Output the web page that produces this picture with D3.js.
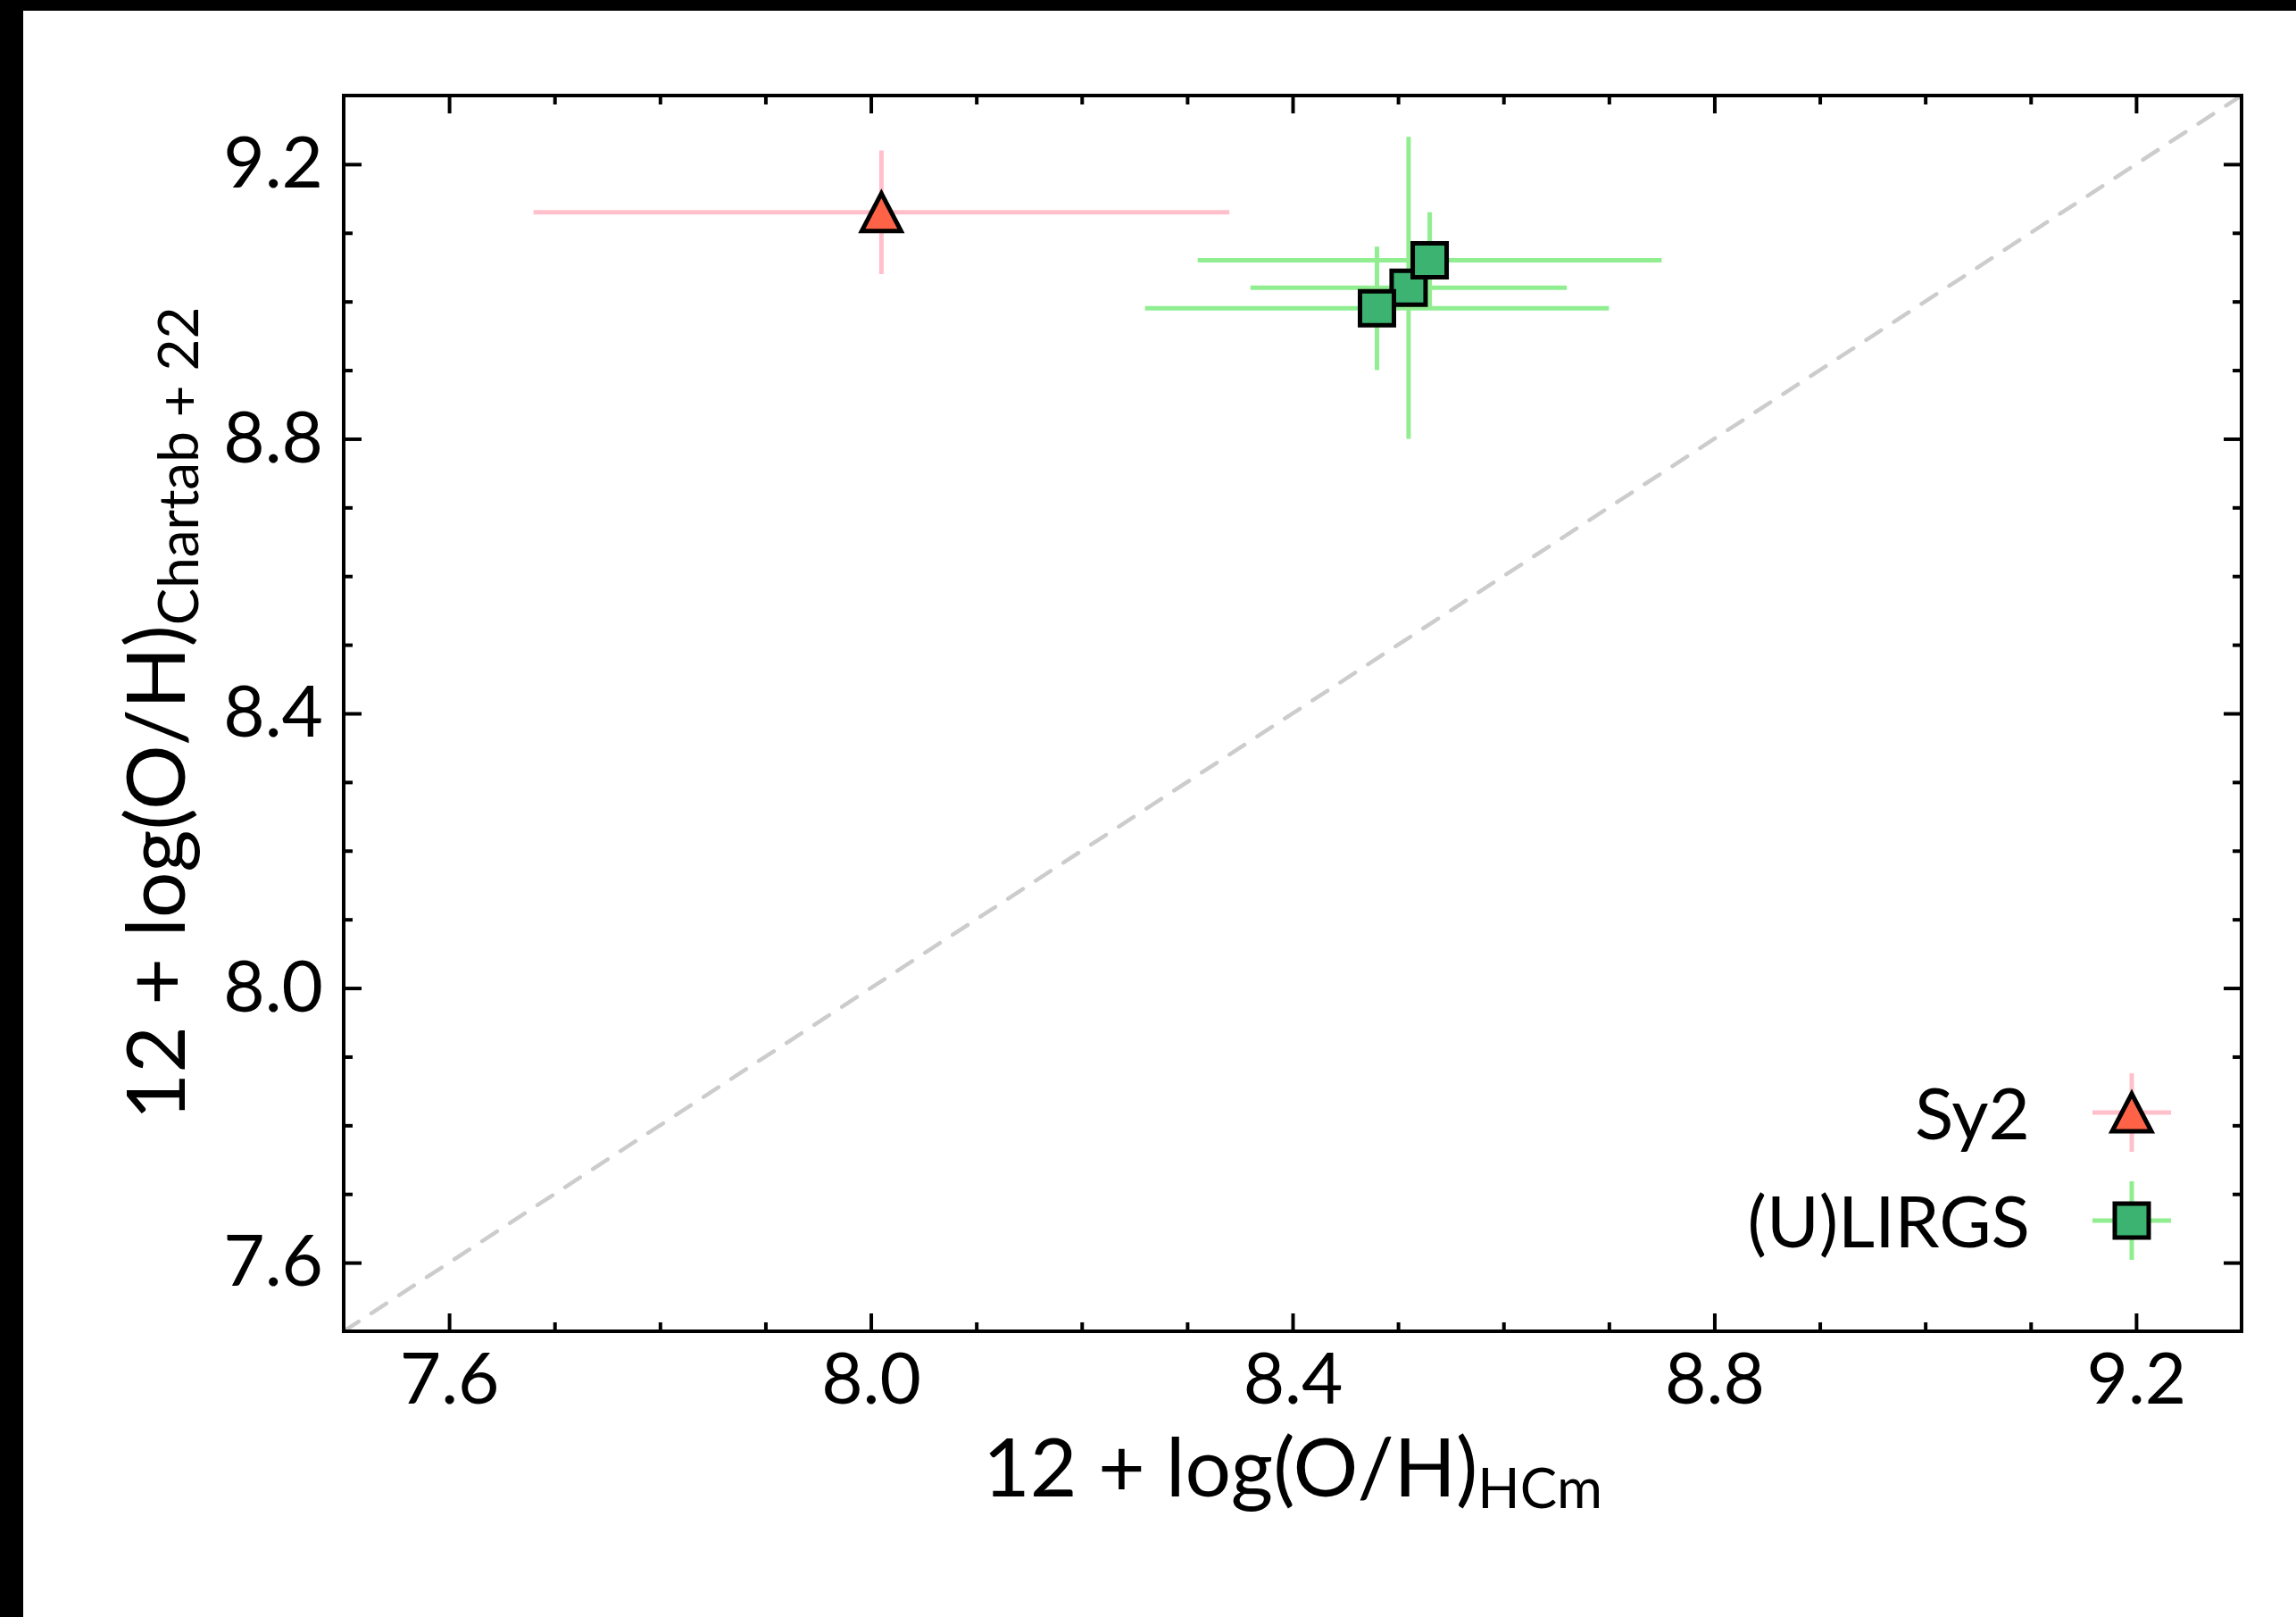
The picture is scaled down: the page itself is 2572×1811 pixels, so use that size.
<!DOCTYPE html>
<html>
<head>
<meta charset="utf-8">
<script src="https://cdn.jsdelivr.net/npm/d3@7"></script>
<style>
  body { margin: 0; background: #fff; }
  text { font-family: "Lato", "DejaVu Sans", sans-serif; fill: #000; }
</style>
</head>
<body>
<div id="chart"></div>
<script>
// Sy2 galaxies
var sy2X = [8.01];
var sy2Y = [9.13];
var sy2XErr = [0.33];
var sy2YErr = [0.09];

// (U)LIRGs
var lirgX = [8.51, 8.48, 8.53];
var lirgY = [9.02, 8.99, 9.06];
var lirgXErr = [0.15, 0.22, 0.22];
var lirgYErr = [0.22, 0.09, 0.07];

var majorTicks = [7.6, 8.0, 8.4, 8.8, 9.2];
var minorTicks = [7.7, 7.8, 7.9, 8.1, 8.2, 8.3, 8.5, 8.6, 8.7, 8.9, 9.0, 9.1];
var legendLabels = ["Sy2", "(U)LIRGS"];

(function chart() {
  var width = 2572,
      height = 1811,
      left = 385, right = 2511, top = 107, bottom = 1491;

  var x = d3.scaleLinear().domain([7.5, 9.3]).range([left, right]);
  var y = d3.scaleLinear().domain([7.5, 9.3]).range([bottom, top]);

  var svg = d3.select("#chart").append("svg")
      .attr("width", width)
      .attr("height", height);

  svg.append("rect").attr("width", width).attr("height", height).attr("fill", "#fff");
  // black strips at the edges of the picture
  svg.append("rect").attr("width", width).attr("height", 12).attr("fill", "#000");
  svg.append("rect").attr("width", 26).attr("height", height).attr("fill", "#000");

  // 1:1 line
  var diag = x.domain();
  svg.append("line")
      .attr("x1", x(diag[0])).attr("y1", y(diag[0]))
      .attr("x2", x(diag[1])).attr("y2", y(diag[1]))
      .attr("stroke", "#cccccc")
      .attr("stroke-width", 4.5)
      .attr("stroke-dasharray", "20,17")
      .attr("stroke-linecap", "round");

  function errorbars(xs, ys, xe, ye, color) {
    var g = svg.append("g").attr("stroke", color).attr("stroke-width", 5);
    xs.forEach(function(d, i) {
      g.append("line")
          .attr("x1", x(d - xe[i])).attr("x2", x(d + xe[i]))
          .attr("y1", y(ys[i])).attr("y2", y(ys[i]));
      g.append("line")
          .attr("x1", x(d)).attr("x2", x(d))
          .attr("y1", y(ys[i] - ye[i])).attr("y2", y(ys[i] + ye[i]));
    });
  }

  var triangle = "M0,-21L22,21L-22,21Z";
  var square = d3.symbol().type(d3.symbolSquare).size(38 * 38)();

  function markers(xs, ys, shape, fill) {
    svg.append("g").selectAll("path")
        .data(xs)
      .enter().append("path")
        .attr("d", shape)
        .attr("transform", function(d, i) { return "translate(" + x(d) + "," + y(ys[i]) + ")"; })
        .attr("fill", fill)
        .attr("stroke", "#000")
        .attr("stroke-width", 5);
  }

  errorbars(sy2X, sy2Y, sy2XErr, sy2YErr, "pink");
  markers(sy2X, sy2Y, triangle, "tomato");
  errorbars(lirgX, lirgY, lirgXErr, lirgYErr, "lightgreen");
  markers(lirgX, lirgY, square, "mediumseagreen");

  // axes, ticks inward on all four sides
  var fmt = d3.format(".1f");
  function addAxis(axis, tx, ty, labels) {
    var g = svg.append("g")
        .attr("transform", "translate(" + tx + "," + ty + ")")
        .call(axis);
    g.select(".domain").remove();
    g.selectAll(".tick line").attr("stroke", "#000").attr("stroke-width", 4);
    g.selectAll(".tick text").style("font-size", "80px").style("font-family", "Lato");
    if (!labels) g.selectAll(".tick text").remove();
    return g;
  }

  addAxis(d3.axisBottom(x).tickValues(majorTicks).tickSize(-20).tickPadding(24).tickFormat(fmt), 0, bottom, true);
  addAxis(d3.axisBottom(x).tickValues(minorTicks).tickSize(-10), 0, bottom, false);
  addAxis(d3.axisTop(x).tickValues(majorTicks).tickSize(-20), 0, top, false);
  addAxis(d3.axisTop(x).tickValues(minorTicks).tickSize(-10), 0, top, false);
  addAxis(d3.axisLeft(y).tickValues(majorTicks).tickSize(-20).tickPadding(23).tickFormat(fmt), left, 0, true);
  addAxis(d3.axisLeft(y).tickValues(minorTicks).tickSize(-10), left, 0, false);
  addAxis(d3.axisRight(y).tickValues(majorTicks).tickSize(-20), right, 0, false);
  addAxis(d3.axisRight(y).tickValues(minorTicks).tickSize(-10), right, 0, false);

  svg.append("rect")
      .attr("x", left).attr("y", top)
      .attr("width", right - left).attr("height", bottom - top)
      .attr("fill", "none")
      .attr("stroke", "#000")
      .attr("stroke-width", 4);

  // axis labels
  var xl = svg.append("text")
      .attr("transform", "translate(" + (left + right) / 2 + ",1676)")
      .attr("text-anchor", "middle")
      .style("font-size", "91px");
  xl.append("tspan").text("12 + log(O/H)");
  xl.append("tspan").attr("dy", 13).style("font-size", "62px").text("HCm");

  var yl = svg.append("text")
      .attr("transform", "translate(207," + (top + bottom) / 2 + ") rotate(-90)")
      .attr("text-anchor", "middle")
      .style("font-size", "91px");
  yl.append("tspan").text("12 + log(O/H)");
  yl.append("tspan").attr("dy", 15).style("font-size", "62px").text("Chartab + 22");

  // legend
  var legendRows = [
    { label: legendLabels[0], y: 1246, bar: "pink", fill: "tomato", shape: triangle },
    { label: legendLabels[1], y: 1367, bar: "lightgreen", fill: "mediumseagreen", shape: square }
  ];
  var lg = svg.append("g").selectAll("g")
      .data(legendRows)
    .enter().append("g")
      .attr("transform", function(d) { return "translate(2388," + d.y + ")"; });
  lg.append("line").attr("x1", -44).attr("x2", 44)
      .attr("stroke", function(d) { return d.bar; }).attr("stroke-width", 5);
  lg.append("line").attr("y1", -44).attr("y2", 44)
      .attr("stroke", function(d) { return d.bar; }).attr("stroke-width", 5);
  lg.append("path")
      .attr("d", function(d) { return d.shape; })
      .attr("fill", function(d) { return d.fill; })
      .attr("stroke", "#000").attr("stroke-width", 5);
  lg.append("text")
      .attr("x", -114)
      .attr("y", 30)
      .attr("text-anchor", "end")
      .style("font-size", "80px")
      .text(function(d) { return d.label; });
})();
</script>
</body>
</html>
